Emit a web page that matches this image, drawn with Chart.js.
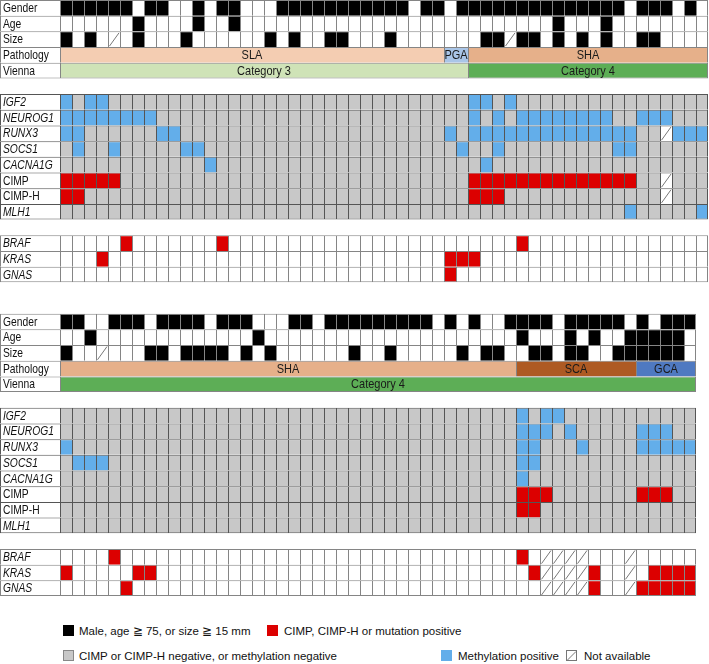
<!DOCTYPE html>
<html><head><meta charset="utf-8">
<script src="https://cdn.jsdelivr.net/npm/chart.js@4.4.1/dist/chart.umd.min.js"></script>
<style>
body{margin:0;background:#fff;width:709px;height:664px;overflow:hidden;font-family:"Liberation Sans",Arial,sans-serif;position:relative;}
#wrap{position:absolute;left:0;top:0;width:709px;height:596px;}
.leg{position:absolute;font-size:11.5px;color:#111;white-space:nowrap;line-height:14px;}
.sw{position:absolute;width:11px;height:11px;box-sizing:border-box;}
</style></head><body>
<div id="wrap"><canvas id="c" width="709" height="596" style="width:709px;height:596px"></canvas></div>
<div class="sw" style="left:63px;top:625px;background:#000"></div>
<div class="leg" style="left:79px;top:624px">Male, age ≧ 75, or size ≧ 15 mm</div>
<div class="sw" style="left:267px;top:625px;background:#dc0000"></div>
<div class="leg" style="left:284px;top:624px">CIMP, CIMP-H or mutation positive</div>
<div class="sw" style="left:63px;top:650px;background:#c8c8c8;border:1px solid #888"></div>
<div class="leg" style="left:79px;top:649px">CIMP or CIMP-H negative, or methylation negative</div>
<div class="sw" style="left:441px;top:650px;background:#63aeea"></div>
<div class="leg" style="left:458px;top:649px">Methylation positive</div>
<svg class="sw" style="left:566px;top:650px" width="11" height="11"><rect x="0.5" y="0.5" width="10" height="10" fill="#fff" stroke="#777"/><line x1="1.5" y1="10" x2="10" y2="1.5" stroke="#555" stroke-width="0.8"/></svg>
<div class="leg" style="left:584px;top:649px">Not available</div>
<script>
// ---------- row labels ----------
const demoRows = ['Gender', 'Age', 'Size'];
const geneRows = ['IGF2', 'NEUROG1', 'RUNX3', 'SOCS1', 'CACNA1G', 'CIMP', 'CIMP-H', 'MLH1'];
const mutRows = ['BRAF', 'KRAS', 'GNAS'];
const plainLabels = ['Gender', 'Age', 'Size', 'Pathology', 'Vienna', 'CIMP', 'CIMP-H'];
// codes: 1 = positive, 0 = negative, 2 = not available

// ---------- upper panel (54 cases) ----------
const topGender = [1,1,1,1,1,1,0,1,1,0, 0,1,0,1,1,0,0,0,1,1, 1,1,1,1,1,1,1,1,1,0, 1,1,0,1,1,1,1,1,1,1, 1,1,1,1,1,1,1,0,1,1, 1,0,1,0];
const topAge    = [0,0,0,0,0,0,1,0,0,0, 0,1,0,0,1,0,0,0,0,0, 0,0,0,0,0,0,0,0,0,0, 0,0,0,0,0,0,0,0,0,0, 0,1,0,0,0,1,0,0,0,0, 0,0,0,0];
const topSize   = [1,0,1,0,2,0,1,0,0,0, 1,0,0,0,0,0,0,1,0,1, 0,0,1,1,0,0,0,1,0,0, 0,0,0,0,0,1,1,2,1,1, 0,1,0,1,0,1,0,0,1,1, 0,0,0,0];
const topPathology = [['SLA', 32], ['PGA', 2], ['SHA', 20]];
const topVienna = [['Category 3', 34], ['Category 4', 20]];
const topIGF2    = [1,0,1,1,0,0,0,0,0,0, 0,0,0,0,0,0,0,0,0,0, 0,0,0,0,0,0,0,0,0,0, 0,0,0,0,1,1,0,1,0,0, 0,0,0,0,0,0,0,0,0,0, 0,0,0,0];
const topNEUROG1 = [1,1,1,1,1,1,1,1,0,0, 0,0,0,0,0,0,0,0,0,0, 0,0,0,0,0,0,0,0,0,0, 0,0,0,0,1,0,1,0,1,1, 1,1,1,1,1,1,0,0,1,1, 1,0,0,0];
const topRUNX3   = [1,1,0,0,0,0,0,0,1,1, 0,0,0,0,0,0,0,0,0,0, 0,0,0,0,0,0,0,0,0,0, 0,0,1,0,1,1,1,1,1,1, 1,1,1,1,1,1,1,1,0,0, 2,1,1,1];
const topSOCS1   = [0,1,0,0,1,0,0,0,0,0, 1,1,0,0,0,0,0,0,0,0, 0,0,0,0,0,0,0,0,0,0, 0,0,0,1,0,0,1,0,0,0, 0,0,0,0,0,0,1,1,0,0, 0,0,0,0];
const topCACNA1G = [0,0,0,0,0,0,0,0,0,0, 0,0,1,0,0,0,0,0,0,0, 0,0,0,0,0,0,0,0,0,0, 0,0,0,0,0,1,0,0,0,0, 0,0,0,0,0,0,0,0,0,0, 0,0,0,0];
const topCIMP    = [1,1,1,1,1,0,0,0,0,0, 0,0,0,0,0,0,0,0,0,0, 0,0,0,0,0,0,0,0,0,0, 0,0,0,0,1,1,1,1,1,1, 1,1,1,1,1,1,1,1,0,0, 2,0,0,0];
const topCIMPH   = [1,1,0,0,0,0,0,0,0,0, 0,0,0,0,0,0,0,0,0,0, 0,0,0,0,0,0,0,0,0,0, 0,0,0,0,1,1,1,0,0,0, 0,0,0,0,0,0,0,0,0,0, 2,0,0,0];
const topMLH1    = [0,0,0,0,0,0,0,0,0,0, 0,0,0,0,0,0,0,0,0,0, 0,0,0,0,0,0,0,0,0,0, 0,0,0,0,0,0,0,0,0,0, 0,0,0,0,0,0,0,1,0,0, 0,0,0,1];
const topBRAF    = [0,0,0,0,0,1,0,0,0,0, 0,0,0,1,0,0,0,0,0,0, 0,0,0,0,0,0,0,0,0,0, 0,0,0,0,0,0,0,0,1,0, 0,0,0,0,0,0,0,0,0,0, 0,0,0,0];
const topKRAS    = [0,0,0,1,0,0,0,0,0,0, 0,0,0,0,0,0,0,0,0,0, 0,0,0,0,0,0,0,0,0,0, 0,0,1,1,1,0,0,0,0,0, 0,0,0,0,0,0,0,0,0,0, 0,0,0,0];
const topGNAS    = [0,0,0,0,0,0,0,0,0,0, 0,0,0,0,0,0,0,0,0,0, 0,0,0,0,0,0,0,0,0,0, 0,0,1,0,0,0,0,0,0,0, 0,0,0,0,0,0,0,0,0,0, 0,0,0,0];

// ---------- lower panel (53 cases) ----------
const botGender = [1,1,0,0,1,1,1,0,1,1, 1,1,0,1,1,1,0,0,0,1, 1,0,1,1,1,1,1,1,1,1, 1,0,1,0,1,0,0,1,1,1, 1,0,1,1,1,1,1,0,1,0, 1,1,1];
const botAge    = [0,0,1,0,0,0,0,0,0,0, 0,0,0,0,0,0,1,0,0,0, 0,0,0,0,0,0,0,0,0,0, 0,0,0,0,0,0,0,0,1,0, 0,0,1,0,1,0,0,1,1,1, 1,1,0];
const botSize   = [1,0,0,2,0,0,0,1,1,0, 1,1,1,1,0,1,0,1,0,0, 0,0,0,0,1,0,0,1,0,0, 0,0,0,1,0,1,1,0,0,1, 1,0,1,1,0,0,1,1,1,1, 1,1,0];
const botPathology = [['SHA', 38], ['SCA', 10], ['GCA', 5]];
const botVienna = [['Category 4', 53]];
const botIGF2    = [0,0,0,0,0,0,0,0,0,0, 0,0,0,0,0,0,0,0,0,0, 0,0,0,0,0,0,0,0,0,0, 0,0,0,0,0,0,0,0,1,0, 1,1,0,0,0,0,0,0,0,0, 0,0,0];
const botNEUROG1 = [0,0,0,0,0,0,0,0,0,0, 0,0,0,0,0,0,0,0,0,0, 0,0,0,0,0,0,0,0,0,0, 0,0,0,0,0,0,0,0,1,1, 1,0,1,0,0,0,0,0,1,1, 1,0,0];
const botRUNX3   = [1,0,0,0,0,0,0,0,0,0, 0,0,0,0,0,0,0,0,0,0, 0,0,0,0,0,0,0,0,0,0, 0,0,0,0,0,0,0,0,1,1, 0,0,0,1,0,0,0,0,1,1, 1,1,1];
const botSOCS1   = [0,1,1,1,0,0,0,0,0,0, 0,0,0,0,0,0,0,0,0,0, 0,0,0,0,0,0,0,0,0,0, 0,0,0,0,0,0,0,0,1,1, 0,0,0,0,0,0,0,0,0,0, 0,0,0];
const botCACNA1G = [0,0,0,0,0,0,0,0,0,0, 0,0,0,0,0,0,0,0,0,0, 0,0,0,0,0,0,0,0,0,0, 0,0,0,0,0,0,0,0,1,0, 0,0,0,0,0,0,0,0,0,0, 0,0,0];
const botCIMP    = [0,0,0,0,0,0,0,0,0,0, 0,0,0,0,0,0,0,0,0,0, 0,0,0,0,0,0,0,0,0,0, 0,0,0,0,0,0,0,0,1,1, 1,0,0,0,0,0,0,0,1,1, 1,0,0];
const botCIMPH   = [0,0,0,0,0,0,0,0,0,0, 0,0,0,0,0,0,0,0,0,0, 0,0,0,0,0,0,0,0,0,0, 0,0,0,0,0,0,0,0,1,1, 0,0,0,0,0,0,0,0,0,0, 0,0,0];
const botMLH1    = [0,0,0,0,0,0,0,0,0,0, 0,0,0,0,0,0,0,0,0,0, 0,0,0,0,0,0,0,0,0,0, 0,0,0,0,0,0,0,0,0,0, 0,0,0,0,0,0,0,0,0,0, 0,0,0];
const botBRAF    = [0,0,0,0,1,0,0,0,0,0, 0,0,0,0,0,0,0,0,0,0, 0,0,0,0,0,0,0,0,0,0, 0,0,0,0,0,0,0,0,1,0, 2,2,2,2,0,0,0,2,0,0, 0,0,0];
const botKRAS    = [1,0,0,0,0,0,1,1,0,0, 0,0,0,0,0,0,0,0,0,0, 0,0,0,0,0,0,0,0,0,0, 0,0,0,0,0,0,0,0,0,1, 2,2,2,2,1,0,0,2,0,1, 1,1,1];
const botGNAS    = [0,0,0,0,0,1,0,0,0,0, 0,0,0,0,0,0,0,0,0,0, 0,0,0,0,0,0,0,0,0,0, 0,0,0,0,0,0,0,0,0,0, 2,2,2,2,1,0,0,2,1,1, 1,1,1];

// ---------- styles ----------
const COL = {
  black: '#000000', white: '#ffffff', gray: '#c8c8c8', blue: '#63aeea', red: '#dc0000',
  SLA: '#f4cdb2', PGA: '#a9c5e7', SHA: '#e6b08a', SCA: '#ae5a23', GCA: '#4f79c1',
  'Category 3': '#cfe3b7', 'Category 4': '#5dae56'
};
const GRID_LIGHT = '#858585', GRID_DARK = '#555555';

// ---------- build cells ----------
const panels = [
  {offset: 0, n: 54, demo: [topGender, topAge, topSize], patho: topPathology, vienna: topVienna,
   genes: [topIGF2, topNEUROG1, topRUNX3, topSOCS1, topCACNA1G, topCIMP, topCIMPH, topMLH1],
   muts: [topBRAF, topKRAS, topGNAS]},
  {offset: 20, n: 53, demo: [botGender, botAge, botSize], patho: botPathology, vienna: botVienna,
   genes: [botIGF2, botNEUROG1, botRUNX3, botSOCS1, botCACNA1G, botCIMP, botCIMPH, botMLH1],
   muts: [botBRAF, botKRAS, botGNAS]}
];
const cells = [];
function addLabel(row, name, lastRow, dark) {
  cells.push({x: [-5, 0], y: row + 0.5, label: name, lastRow, dark});
}
function addRow(row, values, kind, n, lastRow) {
  values.forEach((v, c) => cells.push({x: [c, c + 1], y: row + 0.5, kind, v, lastCol: c === n - 1, lastRow}));
}
function addSegments(row, segs, n, lastRow) {
  let s = 0;
  segs.forEach(([name, len]) => {
    cells.push({x: [s, s + len], y: row + 0.5, seg: name, lastCol: s + len === n, lastRow});
    s += len;
  });
}
panels.forEach(p => {
  const o = p.offset;
  demoRows.forEach((name, i) => { addLabel(o + i, name, false); addRow(o + i, p.demo[i], 'demo', p.n, false); });
  addLabel(o + 3, 'Pathology', false); addSegments(o + 3, p.patho, p.n, false);
  addLabel(o + 4, 'Vienna', true); addSegments(o + 4, p.vienna, p.n, true);
  geneRows.forEach((name, i) => {
    const last = i === geneRows.length - 1;
    addLabel(o + 6 + i, name, last, true);
    addRow(o + 6 + i, p.genes[i], (name === 'CIMP' || name === 'CIMP-H') ? 'cimp' : 'meth', p.n, last);
  });
  mutRows.forEach((name, i) => {
    const last = i === mutRows.length - 1;
    addLabel(o + 15 + i, name, last);
    addRow(o + 15 + i, p.muts[i], 'mut', p.n, last);
  });
});

function fillOf(r) {
  if (!r) return COL.white;
  if (r.label !== undefined) return COL.white;
  if (r.seg) return COL[r.seg];
  if (r.v === 2) return COL.white;
  if (r.kind === 'demo') return r.v ? COL.black : COL.white;
  if (r.kind === 'meth') return r.v ? COL.blue : COL.gray;
  if (r.kind === 'cimp') return r.v ? COL.red : COL.gray;
  return r.v ? COL.red : COL.white;
}
function strokeOf(r) {
  if (!r) return GRID_LIGHT;
  if (r.kind === 'meth' || r.kind === 'cimp' || (r.label !== undefined && r.dark)) return GRID_DARK;
  return GRID_LIGHT;
}

const cellText = {
  id: 'cellText',
  afterDatasetsDraw(chart) {
    const ctx = chart.ctx;
    const data = chart.data.datasets[0].data;
    chart.getDatasetMeta(0).data.forEach((el, i) => {
      const r = data[i];
      const left = Math.min(el.x, el.base), right = Math.max(el.x, el.base);
      const top = el.y - el.height / 2, bottom = el.y + el.height / 2;
      ctx.save();
      if (r.v === 2) {
        ctx.strokeStyle = '#555'; ctx.lineWidth = 0.8;
        ctx.beginPath(); ctx.moveTo(left + 1.5, bottom - 1); ctx.lineTo(right - 1, top + 1.5); ctx.stroke();
      }
      if (r.label) {
        const it = plainLabels.indexOf(r.label) < 0;
        ctx.font = (it ? 'italic ' : '') + '10.3px "Liberation Sans", Arial, sans-serif';
        ctx.fillStyle = '#111'; ctx.textAlign = 'left'; ctx.textBaseline = 'middle';
        ctx.translate(left + 3, el.y + 0.8);
        ctx.scale(1, 1.18);
        ctx.fillText(r.label, 0, 0);
      }
      if (r.seg) {
        ctx.font = '11px "Liberation Sans", Arial, sans-serif';
        ctx.fillStyle = '#1a1a1a'; ctx.textAlign = 'center'; ctx.textBaseline = 'middle';
        ctx.translate((left + right) / 2, el.y + 0.8);
        ctx.scale(1, 1.1);
        ctx.fillText(r.seg, 0, 0);
      }
      ctx.restore();
    });
  }
};

const ROWS = 38, H = 596;
new Chart(document.getElementById('c'), {
  type: 'bar',
  data: {datasets: [{
    data: cells,
    backgroundColor: c => fillOf(c.raw),
    borderColor: c => strokeOf(c.raw),
    borderWidth: c => { const r = c.raw || {}; return {left: 1, top: 1, right: r.lastCol ? 1 : 0, bottom: r.lastRow ? 1 : 0}; },
    borderSkipped: false,
    inflateAmount: 0,
    grouped: false,
    barThickness: H / ROWS,
    barPercentage: 1,
    categoryPercentage: 1
  }]},
  options: {
    indexAxis: 'y',
    responsive: false,
    animation: false,
    events: [],
    layout: {padding: 0},
    plugins: {legend: {display: false}, tooltip: {enabled: false}},
    scales: {
      x: {type: 'linear', min: -5, max: 709 / 12 - 5, display: false, offset: false},
      y: {type: 'linear', min: 0, max: ROWS, reverse: true, display: false, offset: false}
    }
  },
  plugins: [cellText]
});
</script>
</body></html>
